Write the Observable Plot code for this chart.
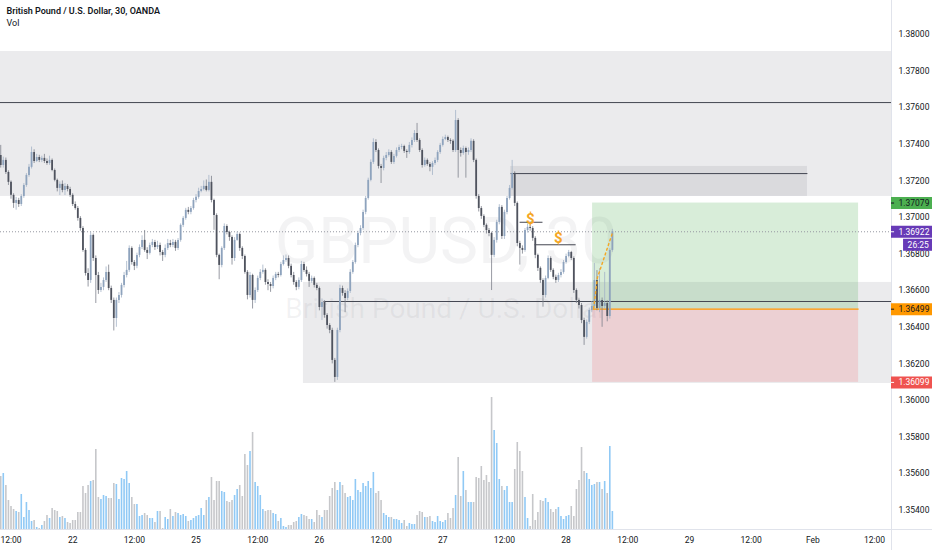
<!DOCTYPE html>
<html><head><meta charset="utf-8">
<script src="https://cdn.jsdelivr.net/npm/d3@7"></script>
<script src="https://cdn.jsdelivr.net/npm/@observablehq/plot@0.6"></script>
<style>
html,body{margin:0;padding:0;background:#fff;}
#wrap{position:relative;width:932px;height:550px;overflow:hidden;font-family:Roboto,"Noto Sans",sans-serif;background:#fff;}
#wrap svg{position:absolute;left:0;top:0;}
#usd{position:absolute;left:903px;top:4px;width:21px;height:12px;border:1px solid #e0e3eb;border-radius:3px;font:7.5px Roboto,sans-serif;color:#131722;text-align:center;line-height:12px;background:#fff;}
</style></head><body><div id="wrap"><div id="usd">USD</div></div>
<script>
// ---- OHLC data, 30-minute bars, one array per trading day: [open, high, low, close]
const day21Start = -4; // bar index 0 = Jan 21 12:00
const day21 = [
[1.37339,1.37394,1.37270,1.37284],[1.37284,1.37330,1.37270,1.37312],[1.37312,1.37325,1.37235,1.37246],[1.37246,1.37255,1.37175,1.37192],
[1.37192,1.37200,1.37100,1.37121],[1.37121,1.37130,1.37050,1.37077],[1.37077,1.37110,1.37040,1.37093],[1.37093,1.37105,1.37055,1.37071],
[1.37071,1.37125,1.37060,1.37115],[1.37115,1.37185,1.37105,1.37175],[1.37175,1.37240,1.37165,1.37230],[1.37230,1.37290,1.37220,1.37274],
[1.37274,1.37385,1.37265,1.37355],[1.37355,1.37370,1.37295,1.37306],[1.37306,1.37345,1.37300,1.37328],[1.37328,1.37340,1.37300,1.37312],
[1.37312,1.37335,1.37300,1.37323],[1.37323,1.37345,1.37295,1.37306],[1.37306,1.37320,1.37285,1.37295],[1.37295,1.37335,1.37285,1.37312],
[1.37312,1.37320,1.37250,1.37257],[1.37257,1.37265,1.37195,1.37203],[1.37203,1.37210,1.37140,1.37159],[1.37159,1.37195,1.37120,1.37181],
[1.37181,1.37200,1.37135,1.37148],[1.37148,1.37185,1.37120,1.37170],[1.37170,1.37180,1.37140,1.37153],[1.37153,1.37165,1.37110,1.37121]];
const day22Start = 24;
const day22 = [
[1.37121,1.37130,1.37060,1.37071],[1.37071,1.37085,1.37040,1.37049],[1.37049,1.37060,1.36980,1.36995],[1.36995,1.37005,1.36925,1.36940],
[1.36940,1.36950,1.36810,1.36820],[1.36820,1.36830,1.36680,1.36694],[1.36694,1.36720,1.36620,1.36656],[1.36656,1.36920,1.36640,1.36902],
[1.36902,1.36910,1.36760,1.36776],[1.36776,1.36790,1.36530,1.36683],[1.36683,1.36700,1.36580,1.36601],[1.36601,1.36640,1.36590,1.36618],
[1.36618,1.36670,1.36600,1.36656],[1.36656,1.36730,1.36645,1.36700],[1.36700,1.36740,1.36600,1.36612],[1.36612,1.36625,1.36530,1.36547],
[1.36547,1.36560,1.36380,1.36448],[1.36448,1.36560,1.36400,1.36547],[1.36547,1.36590,1.36530,1.36574],[1.36574,1.36640,1.36560,1.36629],
[1.36629,1.36700,1.36615,1.36683],[1.36683,1.36760,1.36670,1.36711],[1.36711,1.36845,1.36700,1.36831],[1.36831,1.36840,1.36740,1.36754],
[1.36754,1.36765,1.36710,1.36733],[1.36733,1.36805,1.36720,1.36793],[1.36793,1.36850,1.36780,1.36836],[1.36836,1.36900,1.36825,1.36875],
[1.36875,1.36929,1.36810,1.36820],[1.36820,1.36835,1.36770,1.36804],[1.36804,1.36860,1.36795,1.36847],[1.36847,1.36880,1.36835,1.36864],
[1.36864,1.36875,1.36820,1.36836],[1.36836,1.36870,1.36825,1.36847],[1.36847,1.36860,1.36790,1.36809],[1.36809,1.36820,1.36760,1.36793],
[1.36793,1.36850,1.36780,1.36831],[1.36831,1.36880,1.36820,1.36858],[1.36858,1.36875,1.36835,1.36847],[1.36847,1.36880,1.36835,1.36864],
[1.36864,1.36875,1.36815,1.36831],[1.36831,1.36885,1.36820,1.36875],[1.36875,1.36965,1.36865,1.36957],[1.36957,1.37005,1.36945,1.36995],
[1.36995,1.37050,1.36985,1.37039],[1.37039,1.37055,1.37015,1.37028],[1.37028,1.37060,1.37015,1.37049],[1.37049,1.37105,1.37040,1.37093]];
const day25Start = 72;
const day25 = [
[1.37093,1.37125,1.37080,1.37110],[1.37110,1.37160,1.37100,1.37142],[1.37142,1.37170,1.37135,1.37153],[1.37153,1.37200,1.37145,1.37170],
[1.37170,1.37205,1.37140,1.37148],[1.37148,1.37230,1.37140,1.37192],[1.37192,1.37225,1.37080,1.37093],[1.37093,1.37100,1.36930,1.37011],
[1.37011,1.37020,1.36780,1.36793],[1.36793,1.36800,1.36660,1.36738],[1.36738,1.36840,1.36725,1.36831],[1.36831,1.36965,1.36820,1.36951],
[1.36951,1.36960,1.36905,1.36918],[1.36918,1.36925,1.36870,1.36891],[1.36891,1.36900,1.36740,1.36776],[1.36776,1.36890,1.36760,1.36875],
[1.36875,1.36920,1.36870,1.36907],[1.36907,1.36915,1.36815,1.36831],[1.36831,1.36840,1.36770,1.36787],[1.36787,1.36795,1.36690,1.36700],
[1.36700,1.36710,1.36550,1.36574],[1.36574,1.36700,1.36560,1.36683],[1.36683,1.36690,1.36500,1.36547],[1.36547,1.36615,1.36530,1.36601],
[1.36601,1.36680,1.36590,1.36667],[1.36667,1.36715,1.36655,1.36700],[1.36700,1.36740,1.36690,1.36711],[1.36711,1.36720,1.36630,1.36645],
[1.36645,1.36660,1.36600,1.36634],[1.36634,1.36645,1.36591,1.36623],[1.36623,1.36680,1.36610,1.36667],[1.36667,1.36700,1.36655,1.36689],
[1.36689,1.36700,1.36670,1.36683],[1.36683,1.36755,1.36675,1.36743],[1.36743,1.36790,1.36735,1.36765],[1.36765,1.36795,1.36755,1.36776],
[1.36776,1.36790,1.36720,1.36733],[1.36733,1.36745,1.36670,1.36683],[1.36683,1.36700,1.36630,1.36645],[1.36645,1.36655,1.36600,1.36618],
[1.36618,1.36670,1.36605,1.36656],[1.36656,1.36760,1.36645,1.36743],[1.36743,1.36755,1.36700,1.36711],[1.36711,1.36730,1.36675,1.36689],
[1.36689,1.36700,1.36618,1.36651],[1.36651,1.36680,1.36640,1.36667],[1.36667,1.36675,1.36615,1.36629],[1.36629,1.36640,1.36600,1.36612]];
const day26Start = 120;
const day26 = [
[1.36612,1.36620,1.36490,1.36508],[1.36508,1.36555,1.36437,1.36536],[1.36536,1.36545,1.36450,1.36465],[1.36465,1.36475,1.36390,1.36410],
[1.36410,1.36420,1.36365,1.36383],[1.36383,1.36395,1.36200,1.36219],[1.36219,1.36230,1.36099,1.36126],[1.36126,1.36395,1.36110,1.36383],
[1.36383,1.36630,1.36370,1.36612],[1.36612,1.36625,1.36570,1.36585],[1.36585,1.36600,1.36480,1.36558],[1.36558,1.36610,1.36545,1.36596],
[1.36596,1.36715,1.36585,1.36700],[1.36700,1.36765,1.36690,1.36754],[1.36754,1.36860,1.36745,1.36847],[1.36847,1.36925,1.36835,1.36913],
[1.36913,1.36955,1.36900,1.36940],[1.36940,1.37040,1.36930,1.37028],[1.37028,1.37115,1.37015,1.37104],[1.37104,1.37215,1.37095,1.37203],
[1.37203,1.37315,1.37195,1.37301],[1.37301,1.37430,1.37290,1.37410],[1.37410,1.37425,1.37355,1.37366],[1.37366,1.37375,1.37265,1.37279],
[1.37279,1.37290,1.37186,1.37268],[1.37268,1.37335,1.37255,1.37323],[1.37323,1.37355,1.37310,1.37339],[1.37339,1.37370,1.37330,1.37355],
[1.37355,1.37365,1.37290,1.37301],[1.37301,1.37345,1.37290,1.37334],[1.37334,1.37380,1.37325,1.37366],[1.37366,1.37395,1.37355,1.37383],
[1.37383,1.37400,1.37370,1.37388],[1.37388,1.37395,1.37350,1.37361],[1.37361,1.37370,1.37323,1.37355],[1.37355,1.37410,1.37345,1.37394],
[1.37394,1.37435,1.37380,1.37421],[1.37421,1.37475,1.37410,1.37459],[1.37459,1.37514,1.37410,1.37421],[1.37421,1.37430,1.37355,1.37366],
[1.37366,1.37375,1.37270,1.37284],[1.37284,1.37325,1.37275,1.37312],[1.37312,1.37320,1.37280,1.37290],[1.37290,1.37300,1.37250,1.37274],
[1.37274,1.37305,1.37230,1.37295],[1.37295,1.37325,1.37285,1.37312],[1.37312,1.37365,1.37300,1.37355],[1.37355,1.37405,1.37345,1.37394]];
const day27Start = 168;
const day27 = [
[1.37394,1.37440,1.37385,1.37426],[1.37426,1.37450,1.37420,1.37437],[1.37437,1.37445,1.37410,1.37421],[1.37421,1.37430,1.37400,1.37416],
[1.37416,1.37425,1.37355,1.37366],[1.37366,1.37585,1.37355,1.37530],[1.37530,1.37540,1.37215,1.37366],[1.37366,1.37380,1.37330,1.37350],
[1.37350,1.37390,1.37340,1.37377],[1.37377,1.37385,1.37215,1.37355],[1.37355,1.37380,1.37340,1.37366],[1.37366,1.37430,1.37355,1.37416],
[1.37416,1.37425,1.37300,1.37312],[1.37312,1.37320,1.37100,1.37115],[1.37115,1.37125,1.37030,1.37049],[1.37049,1.37060,1.36990,1.37006],
[1.37006,1.37015,1.36945,1.36957],[1.36957,1.36965,1.36910,1.36929],[1.36929,1.36940,1.36895,1.36913],[1.36913,1.36920,1.36601,1.36793],
[1.36793,1.36890,1.36780,1.36875],[1.36875,1.36985,1.36860,1.36973],[1.36973,1.37070,1.36960,1.37055],[1.37055,1.37065,1.36880,1.36896],
[1.36896,1.37040,1.36880,1.37028],[1.37028,1.37115,1.37015,1.37104],[1.37104,1.37175,1.37095,1.37159],[1.37159,1.37312,1.37150,1.37241],
[1.37241,1.37250,1.37060,1.37077],[1.37077,1.37085,1.36840,1.36858],[1.36858,1.36870,1.36740,1.36831],[1.36831,1.36845,1.36800,1.36820],
[1.36820,1.36940,1.36810,1.36929],[1.36929,1.36965,1.36915,1.36946],[1.36946,1.36960,1.36925,1.36940],[1.36940,1.36950,1.36870,1.36886],
[1.36886,1.36895,1.36775,1.36793],[1.36793,1.36800,1.36705,1.36722],[1.36722,1.36730,1.36640,1.36656],[1.36656,1.36665,1.36510,1.36574],
[1.36574,1.36680,1.36560,1.36667],[1.36667,1.36790,1.36660,1.36776],[1.36776,1.36785,1.36700,1.36711],[1.36711,1.36720,1.36660,1.36673],
[1.36673,1.36685,1.36640,1.36656],[1.36656,1.36695,1.36645,1.36683],[1.36683,1.36715,1.36670,1.36700],[1.36700,1.36765,1.36690,1.36754]];
const day28Start = 216;
const day28 = [
[1.36754,1.36800,1.36745,1.36787],[1.36787,1.36820,1.36780,1.36809],[1.36809,1.36815,1.36765,1.36776],[1.36776,1.36785,1.36585,1.36601],
[1.36601,1.36610,1.36530,1.36547],[1.36547,1.36555,1.36500,1.36519],[1.36519,1.36530,1.36420,1.36437],[1.36437,1.36450,1.36301,1.36345],
[1.36345,1.36440,1.36335,1.36427],[1.36427,1.36505,1.36415,1.36492],[1.36492,1.36540,1.36480,1.36514],[1.36514,1.36749,1.36500,1.36656],
[1.36656,1.36710,1.36490,1.36503],[1.36503,1.36720,1.36480,1.36547],[1.36547,1.36560,1.36400,1.36514],[1.36514,1.36700,1.36500,1.36530],
[1.36530,1.36545,1.36430,1.36459],[1.36459,1.36830,1.36445,1.36820],[1.36820,1.36935,1.36810,1.36922]];

// ---- Volume per bar (relative units)
const vol21 = [53,56,44,29,23,20,18,17,35,12,27,19,8,9,2,1,4,8,14,11,21,19,18,12,13,11,7,6];
const vol22 = [9,9,17,17,43,36,44,48,49,80,32,30,34,33,31,31,46,45,30,51,50,58,46,32,25,25,13,14,16,14,11,11,7,18,18,1,12,10,20,13,17,16,14,15,13,8,9,11];
const vol25 = [13,14,21,14,29,32,52,29,48,48,38,37,28,27,29,34,40,44,33,75,64,78,97,47,43,34,20,18,19,19,16,15,8,11,3,2,4,4,7,8,12,15,14,13,10,10,7,19];
const vol26 = [14,12,19,19,33,41,47,39,47,44,36,32,33,29,50,39,37,46,43,48,41,57,36,38,29,16,14,12,12,10,10,9,6,9,3,6,5,5,14,18,17,12,12,13,8,7,13,8];
const vol27 = [7,9,16,11,21,34,72,33,58,39,27,27,27,52,51,63,49,54,47,132,99,86,50,43,39,43,27,27,60,87,78,58,32,11,3,35,9,17,29,28,31,27,20,17,20,22,13,10];
const vol28 = [13,14,23,13,40,49,82,58,56,50,44,45,47,47,40,48,36,83,18];

// ---- Time axis labels (bar index of each label)
const timeTicks = [0,24,48,72,96,120,144,168,192,216,240,264,288,312,336];
const timeLabels = ["12:00","22","12:00","25","12:00","26","12:00","27","12:00","28","12:00","29","12:00","Feb","12:00"];
// ---- Price axis ticks
const priceTicks = [1.354,1.356,1.358,1.36,1.362,1.364,1.366,1.368,1.37,1.372,1.374,1.376,1.378,1.38];

// ---- Drawings
const zones = [ // supply / demand rectangles
  {x1:-5, x2:343, y1:1.37115, y2:1.37907},
  {x1:194.4, x2:309.9, y1:1.37115, y2:1.37279},
  {x1:113.8, x2:343, y1:1.36093, y2:1.36645}
];
const levels = [
  {x1:-5, x2:343, y:1.37628},
  {x1:194.4, x2:309.9, y:1.37240},
  {x1:121.6, x2:343, y:1.36541}
];
const liquidity = [
  {x1:197.9, x2:206.8, y:1.36974, xs:202.1, ys:1.36992},
  {x1:203.7, x2:219.7, y:1.36851, xs:213.0, ys:1.36888}
];
const position = {x1:226.3, x2:329.8, entry:1.36499, target:1.37079, stop:1.36099};
const projection = [{x:226.7, y:1.36503},{x:228.2, y:1.36672},{x:234.2, y:1.36923}];
const lastPrice = 1.36922;
const countdown = "26:25";

const bars = [];
[[day21Start,day21,vol21],[day22Start,day22,vol22],[day25Start,day25,vol25],[day26Start,day26,vol26],[day27Start,day27,vol27],[day28Start,day28,vol28]]
  .forEach(([s, rows, vols]) => rows.forEach((r, k) => bars.push({i: s + k, o: r[0], h: r[1], l: r[2], c: r[3], v: vols[k]})));
const up = bars.filter(d => d.c >= d.o), down = bars.filter(d => d.c < d.o);

const xDomain = [-4.0856, 342.61];
const xEnd = 358.6;
const yDomain = [1.352951, 1.381858];
const fmt = d3.format(".5f");
const font = "Roboto, 'Noto Sans', sans-serif";

const wrap = document.getElementById("wrap");

// Volume pane (behind)
const volPlot = Plot.plot({
  width: 932, height: 550, marginLeft: 0, marginRight: 41, marginTop: 397, marginBottom: 21,
  x: {domain: xDomain, axis: null}, y: {domain: [0, 132], axis: null},
  style: {background: "#fff"},
  marks: [
    Plot.ruleX(up, {x: "i", y1: 0, y2: "v", stroke: "#90c9f5", strokeWidth: 1.6}),
    Plot.ruleX(down, {x: "i", y1: 0, y2: "v", stroke: "#c6c7ca", strokeWidth: 1.6})
  ]
});
wrap.appendChild(volPlot);

const axisLabels = [
  {p: position.target, bg: "#4caf50", fg: "#131722"},
  {p: lastPrice, bg: "#673ab7", fg: "#ffffff"},
  {p: position.entry, bg: "#ff9800", fg: "#131722"},
  {p: position.stop, bg: "#ef5350", fg: "#ffffff"}
];

const main = Plot.plot({
  width: 932, height: 550, marginLeft: 0, marginRight: 41, marginTop: 0, marginBottom: 21,
  style: {background: "transparent", fontFamily: font, fontSize: "8.5px", color: "#131722", overflow: "visible"},
  x: {domain: xDomain, ticks: timeTicks, tickFormat: d => timeLabels[timeTicks.indexOf(d)], tickSize: 0, tickPadding: 7, label: null},
  y: {domain: yDomain, axis: "right", ticks: priceTicks, tickFormat: fmt, tickSize: 0, tickPadding: 7, label: null},
  marks: [
    // watermark
    Plot.text(["GBPUSD, 30"], {frameAnchor: "middle", dy: -22, fontSize: 64, fill: "#787b86", fillOpacity: 0.09}),
    Plot.text(["British Pound / U.S. Dollar"], {frameAnchor: "middle", dy: 44, fontSize: 28, fill: "#787b86", fillOpacity: 0.09}),
    // zones
    Plot.rect(zones, {x1: "x1", x2: "x2", y1: "y1", y2: "y2", fill: "#787b86", fillOpacity: 0.15, clip: "frame"}),
    // position tool
    Plot.rect([position], {x1: "x1", x2: "x2", y1: "entry", y2: "target", fill: "#4caf50", fillOpacity: 0.22}),
    Plot.rect([position], {x1: "x1", x2: "x2", y1: "stop", y2: "entry", fill: "#f23645", fillOpacity: 0.15}),
    Plot.link([position], {x1: "x1", x2: "x2", y1: "entry", y2: "entry", stroke: "#ff9800", strokeWidth: 1.2}),
    // levels
    Plot.link(levels, {x1: "x1", x2: "x2", y1: "y", y2: "y", stroke: "#434651", strokeWidth: 1, clip: "frame"}),
    Plot.link(liquidity, {x1: "x1", x2: "x2", y1: "y", y2: "y", stroke: "#434651", strokeWidth: 1}),
    // last price line
    Plot.ruleY([lastPrice], {stroke: "#9598a1", strokeDasharray: "1,2", strokeWidth: 1}),
    // candles
    Plot.ruleX(up, {x: "i", y1: "l", y2: "h", stroke: "#a3b3c7", strokeWidth: 0.8, clip: "frame"}),
    Plot.ruleX(down, {x: "i", y1: "l", y2: "h", stroke: "#7d818b", strokeWidth: 0.8, clip: "frame"}),
    Plot.ruleX(up, {x: "i", y1: "o", y2: "c", stroke: "#8ea3bd", strokeWidth: 1.8, clip: "frame"}),
    Plot.ruleX(down, {x: "i", y1: "o", y2: "c", stroke: "#4f535e", strokeWidth: 1.8, clip: "frame"}),
    // projection path and liquidity marks
    Plot.line(projection, {x: "x", y: "y", stroke: "#f5a623", strokeWidth: 1.4, strokeDasharray: "2,3"}),
    Plot.text(liquidity, {x: "xs", y: "ys", text: () => "$", fill: "#f5a623", fontSize: 15, fontWeight: "bold"}),
    // separators
    Plot.ruleX([xDomain[1]], {stroke: "#e0e3eb", insetBottom: -21}),
    Plot.ruleY([yDomain[0]], {stroke: "#e0e3eb", insetRight: -41}),
    // price labels on axis
    ...axisLabels.map(a => Plot.ruleY([a.p], {x1: xDomain[1], x2: xEnd, stroke: a.bg, strokeWidth: 12})),
    ...axisLabels.map(a => Plot.ruleY([a.p], {x1: xDomain[1], x2: xDomain[1] + 1.2, stroke: a.fg, strokeWidth: 1})),
    ...axisLabels.map(a => Plot.text([a.p], {y: d => d, x: xDomain[1], dx: 7, text: d => fmt(d), textAnchor: "start", fill: a.fg, fontSize: 8.5})),
    Plot.ruleY([lastPrice], {x1: 347.3, x2: xEnd, dy: 13, stroke: "#673ab7", strokeWidth: 12}),
    Plot.text([countdown], {x: 353.0, y: lastPrice, dy: 13, text: d => d, fill: "#ffffff", fontSize: 8.5}),
    // header
    Plot.text(["British Pound / U.S. Dollar, 30, OANDA"], {frameAnchor: "top-left", dx: 6, dy: 11, lineAnchor: "middle", textAnchor: "start", fontSize: 9, fontWeight: 600, fill: "#131722"}),
    Plot.text(["Vol"], {frameAnchor: "top-left", dx: 6, dy: 23, lineAnchor: "middle", textAnchor: "start", fontSize: 9, fill: "#131722"})
  ]
});
wrap.appendChild(main);
</script></body></html>
